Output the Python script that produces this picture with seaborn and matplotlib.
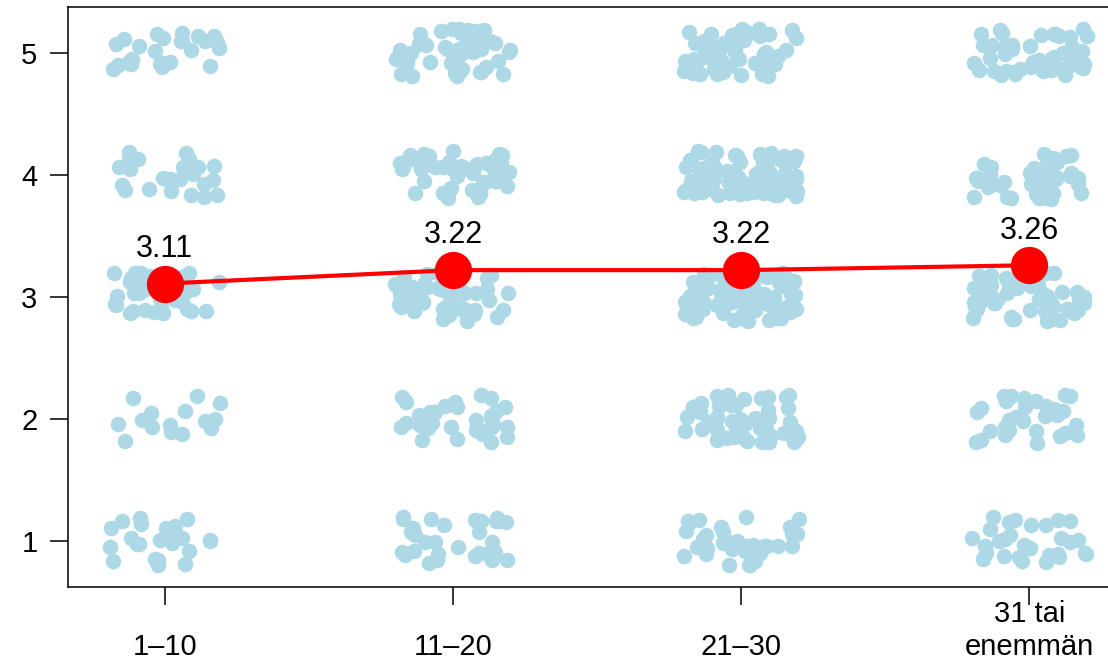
#Librerias
import numpy as np
import pandas as pd
import seaborn as sns
import matplotlib.pyplot as plt

#Datos
ryhmat = ['1–10', '11–20', '21–30', '31 tai\nenemmän']
tasot = [1, 2, 3, 4, 5]
#lukumaarat tasoille 1..5 (arvioitu kuvasta)
n_1_10 = [23, 15, 40, 25, 25]
n_11_20 = [30, 33, 55, 50, 45]
n_21_30 = [35, 50, 80, 75, 55]
n_31_plus = [30, 30, 50, 42, 50]
keskiarvot = [3.11, 3.22, 3.22, 3.26]

#Dataframe con una fila por respuesta
rivit = []
for i, lkm in enumerate([n_1_10, n_11_20, n_21_30, n_31_plus]):
    for taso, n in zip(tasot, lkm):
        rivit += [[i, taso]] * n
df = pd.DataFrame(rivit, columns=['ryhma', 'arvo'])
ka_df = pd.DataFrame({'ryhma': range(len(keskiarvot)), 'ka': keskiarvot})

sns.set_style('ticks', {'axes.edgecolor': 'black', 'xtick.color': 'black', 'ytick.color': 'black',
                        'text.color': 'black', 'axes.labelcolor': 'black'})
plt.rcParams['font.family'] = ['Liberation Sans', 'DejaVu Sans']

fig = plt.figure(figsize=(11.08, 6.62), dpi=100)
ax = fig.add_axes([68 / 1108, 1 - 587 / 662, 1058 / 1108, 580 / 662])

#Puntos con jitter
np.random.seed(3)
sns.regplot(data=df, x='ryhma', y='arvo', x_jitter=0.2, y_jitter=0.2, fit_reg=False, ax=ax,
            scatter_kws={'s': 125, 'color': '#ADD8E6', 'alpha': 1, 'linewidths': 0})

#Linea de medias
sns.lineplot(data=ka_df, x='ryhma', y='ka', color='red', lw=3, ax=ax)
sns.scatterplot(data=ka_df, x='ryhma', y='ka', color='red', s=720, linewidth=0, ax=ax, zorder=5)
for i, ka in enumerate(keskiarvot):
    ax.annotate(f'{ka:.2f}', (i, ka), xytext=(0, 25), textcoords='offset points',
                ha='center', va='center', fontsize=22)

ax.set_xlim(-0.336, 3.336)
ax.set_ylim(0.624, 5.376)
ax.set_xticks(range(len(ryhmat)))
ax.set_xticklabels(ryhmat, va='bottom', fontsize=21)
ax.set_yticks(tasot)
ax.set_yticklabels([str(t) for t in tasot], fontsize=21)
ax.tick_params(axis='both', length=13, width=1.1, color='black')
ax.tick_params(axis='x', pad=40)
ax.tick_params(axis='y', pad=9)
ax.set_xlabel('')
ax.set_ylabel('')
for s in ax.spines.values():
    s.set_linewidth(1.1)
    s.set_color('black')

plt.savefig('out.png', dpi=100)
